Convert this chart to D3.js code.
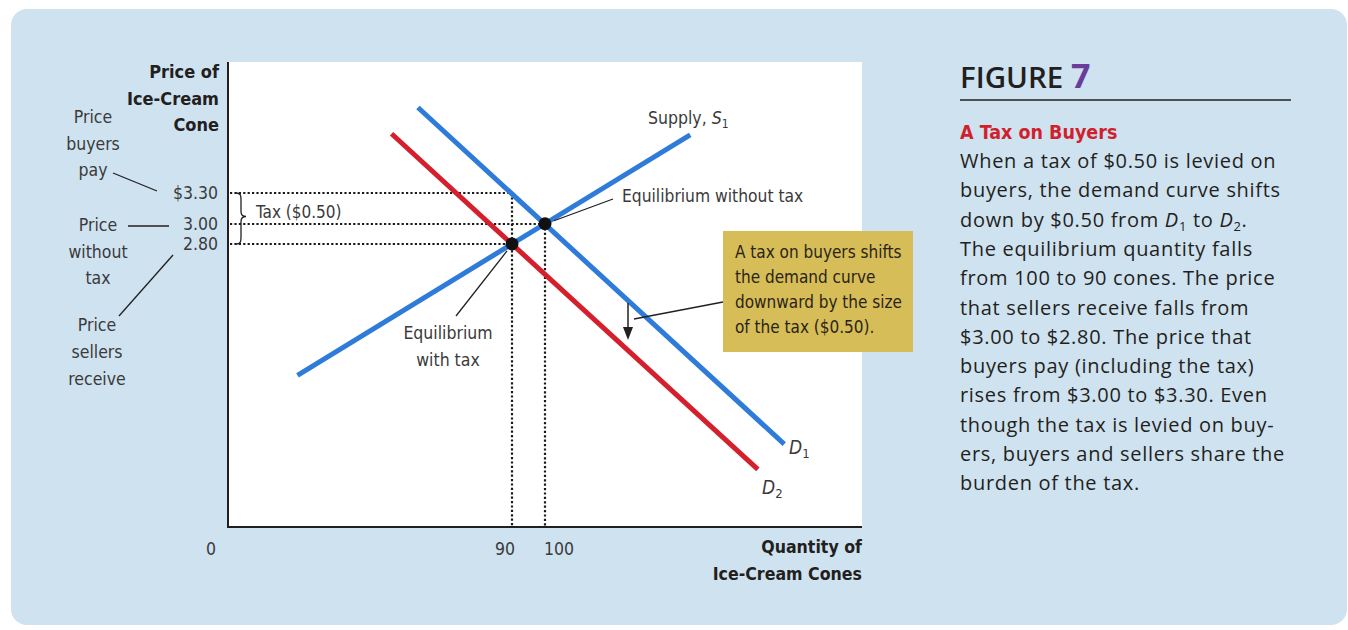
<!DOCTYPE html>
<html><head><meta charset="utf-8">
<script src="https://cdn.jsdelivr.net/npm/d3@7"></script>
<style>
body{margin:0;background:#fff;}
svg{display:block;}
.nar{font-family:"Liberation Sans Narrow","DejaVu Sans Condensed",sans-serif;}
</style></head>
<body><svg id="c" width="1348" height="630"></svg>
<script>
// ---- data ----
const supplyPts = [{q:25, p:1.50}, {q:144, p:3.88}];
const demand1Pts = [{q:61.5, p:4.15}, {q:172.5, p:0.82}];
const demand2Pts = [{q:53.5, p:3.89}, {q:164.5, p:0.57}];
const equilibria = [{q:100, p:3.00, name:"without tax"}, {q:90, p:2.80, name:"with tax"}];
const priceTicks = [{p:3.30, label:"$3.30"}, {p:3.00, label:"3.00"}, {p:2.80, label:"2.80"}];
const qtyTicks = [{q:90, label:"90"}, {q:100, label:"100"}];
const buyerPrice = 3.30, sellerPrice = 2.80, noTaxPrice = 3.00;
const bodyLines = ["When a tax of $0.50 is levied on","buyers, the demand curve shifts",
 "DOWN_LINE","The equilibrium quantity falls","from 100 to 90 cones. The price",
 "that sellers receive falls from","$3.00 to $2.80. The price that",
 "buyers pay (including the tax)","rises from $3.00 to $3.30. Even",
 "though the tax is levied on buy-","ers, buyers and sellers share the","burden of the tax."];
const calloutLines = ["A tax on buyers shifts","the demand curve","downward by the size","of the tax ($0.50)."];

const svg = d3.select("#c");
const BLUE="#2f7bd9", RED="#d4202c", INK="#231f20", TXT="#3a3a3a";

// panel
svg.append("rect").attr("x",11).attr("y",9).attr("width",1336).attr("height",616).attr("rx",16).attr("fill","#cfe2f0");

// plot area
const L=228, R=862, T=62, B=527;
svg.append("rect").attr("x",L).attr("y",T).attr("width",R-L).attr("height",B-T).attr("fill","#fff");

const x = d3.scaleLinear().domain([0,200]).range([215,875]);
const y = d3.scaleLinear().domain([0,4.6]).range([B,T]);

// dotted guides
function dline(x1,y1,x2,y2){svg.append("line").attr("x1",Math.round(x1)).attr("y1",Math.round(y1)).attr("x2",Math.round(x2)).attr("y2",Math.round(y2))
  .attr("stroke","#1a1a1a").attr("stroke-width",2.2).attr("stroke-dasharray","2.2 2.2");}
dline(L+2, y(buyerPrice), x(90), y(buyerPrice));
dline(L+2, y(noTaxPrice), x(100), y(noTaxPrice));
dline(L+2, y(sellerPrice), x(90), y(sellerPrice));
dline(x(90), y(buyerPrice), x(90), B);
dline(x(100), y(noTaxPrice), x(100), B);

// axes
svg.append("line").attr("x1",L).attr("y1",T).attr("x2",L).attr("y2",B+1).attr("stroke",INK).attr("stroke-width",2);
svg.append("line").attr("x1",L-1).attr("y1",B).attr("x2",R).attr("y2",B).attr("stroke",INK).attr("stroke-width",2);

// curves
const line = d3.line().x(d=>x(d.q)).y(d=>y(d.p));
svg.append("path").datum(supplyPts).attr("d",line).attr("stroke",BLUE).attr("stroke-width",5).attr("fill","none");
svg.append("path").datum(demand2Pts).attr("d",line).attr("stroke",RED).attr("stroke-width",5).attr("fill","none");
svg.append("path").datum(demand1Pts).attr("d",line).attr("stroke",BLUE).attr("stroke-width",5).attr("fill","none");

// equilibrium dots
svg.selectAll("circle.eq").data(equilibria).join("circle").attr("class","eq")
 .attr("cx",d=>x(d.q)).attr("cy",d=>y(d.p)).attr("r",6.5).attr("fill","#111");

// brace
const by1=Math.round(y(buyerPrice)), by2=Math.round(y(sellerPrice)), bm=(by1+by2)/2-2, bx=236;
svg.append("path").attr("d",`M${bx},${by1} C${bx+5},${by1} ${bx+5},${by1+3} ${bx+5},${by1+7} L${bx+5},${bm-5} C${bx+5},${bm-1} ${bx+7},${bm} ${bx+10},${bm} C${bx+7},${bm} ${bx+5},${bm+1} ${bx+5},${bm+5} L${bx+5},${by2-7} C${bx+5},${by2-3} ${bx+5},${by2} ${bx},${by2}`)
 .attr("fill","none").attr("stroke",INK).attr("stroke-width",1.3);

function txt(s,xx,yy,size,anchor,fill,weight){return svg.append("text").attr("class","nar").attr("x",xx).attr("y",yy).attr("font-size",size).attr("text-anchor",anchor||"start").attr("fill",fill||TXT).attr("font-weight",weight||"normal").text(s);}

txt("Tax ($0.50)",256,218,17);

// y tick labels
priceTicks.forEach(t=>txt(t.label,218,y(t.p)+6,17.5,"end"));
// x tick labels
txt("0",x(0)-4,555,17.5,"middle");
qtyTicks.forEach(t=>txt(t.label,x(t.q)-(t.q===90?7:-14),555,17.5,"middle"));

// axis titles
["Price of","Ice-Cream","Cone"].forEach((s,i)=>txt(s,219,78+i*26.5,18,"end",INK,"bold"));
["Quantity of","Ice-Cream Cones"].forEach((s,i)=>txt(s,862,553+i*26.5,17.6,"end",INK,"bold"));

// left annotations
["Price","buyers","pay"].forEach((s,i)=>txt(s,93,123+i*26.5,17.5,"middle"));
["Price","without","tax"].forEach((s,i)=>txt(s,98,231+i*26.5,17.5,"middle"));
["Price","sellers","receive"].forEach((s,i)=>txt(s,97,331+i*27,17.5,"middle"));
function seg(x1,y1,x2,y2,w){svg.append("line").attr("x1",x1).attr("y1",y1).attr("x2",x2).attr("y2",y2).attr("stroke",INK).attr("stroke-width",w||1.3);}
seg(113,173,157,191);
seg(128,226,169,226);
seg(119,316,173,255);

// curve labels
const sl = txt("Supply, ",648,124,17.5);
sl.append("tspan").attr("font-style","italic").text("S");
sl.append("tspan").attr("font-size",12).attr("dy",4).text("1");
const d1 = txt("",789,454,19); d1.append("tspan").attr("font-style","italic").text("D"); d1.append("tspan").attr("font-size",13).attr("dy",4).text("1");
const d2 = txt("",762,494,19); d2.append("tspan").attr("font-style","italic").text("D"); d2.append("tspan").attr("font-size",13).attr("dy",4).text("2");

// equilibrium labels
seg(x(100)+9, y(3.00)-3, 613, 199);
txt("Equilibrium without tax",622,202,17.3);
seg(x(90)-5, y(2.80)+7, 456, 316);
txt("Equilibrium",448,339,17.5,"middle");
txt("with tax",448,366,17.5,"middle");

// callout
svg.append("rect").attr("x",723).attr("y",231).attr("width",190).attr("height",121).attr("fill","#d6bd57");
calloutLines.forEach((s,i)=>txt(s,735,258+i*25,17,"start","#2a2418"));
seg(723,302,634,319);
seg(628,303,628,332,1.5);
svg.append("path").attr("d","M623,327 L628,340 L633,327 Z").attr("fill",INK);

// right text panel
const ft = svg.append("text").attr("x",960).attr("y",88).attr("font-family","'Open Sans',sans-serif").attr("font-size",29.5).attr("fill",INK).attr("font-weight",600).text("FIGURE ");
ft.append("tspan").attr("fill","#6a3c9c").attr("font-weight","bold").attr("font-size",34).text("7");
svg.append("line").attr("x1",960).attr("y1",100).attr("x2",1291).attr("y2",100).attr("stroke",INK).attr("stroke-width",1.5);
txt("A Tax on Buyers",960,139,19.5,"start","#d11f2d","bold");
bodyLines.forEach((s,i)=>{
  const t = svg.append("text").attr("x",960).attr("y",168+i*29.3).attr("font-family","'Open Sans',sans-serif").attr("font-size",20).attr("letter-spacing",0.7).attr("fill",INK);
  if(s==="DOWN_LINE"){
    t.append("tspan").text("down by $0.50 from ");
    t.append("tspan").attr("font-style","italic").text("D");
    t.append("tspan").attr("font-size",13).attr("dy",4).text("1");
    t.append("tspan").attr("dy",-4).text(" to ");
    t.append("tspan").attr("font-style","italic").text("D");
    t.append("tspan").attr("font-size",13).attr("dy",4).text("2");
    t.append("tspan").attr("dy",-4).text(".");
  } else t.text(s);
});
</script></body></html>
